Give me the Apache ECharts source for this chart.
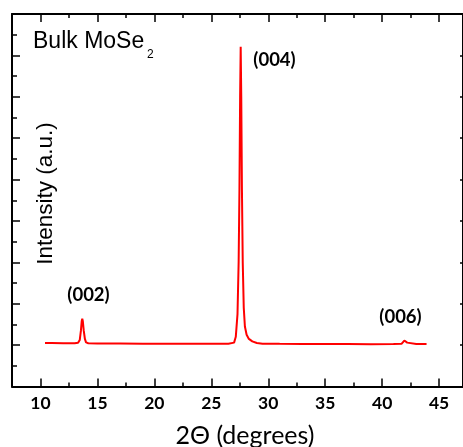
<!DOCTYPE html>
<html>
<head>
<meta charset="utf-8">
<script src="https://cdn.jsdelivr.net/npm/echarts@6/dist/echarts.min.js"></script>
<style>html,body{margin:0;padding:0;background:#fff;}#c{width:463px;height:447px;}</style>
</head>
<body>
<div id="c"></div>
<script>
// 2-theta (degrees)
const twoTheta = [10.4, 11, 12, 13, 13.3, 13.45, 13.55, 13.62, 13.67, 13.72, 13.8, 13.9, 14.0, 14.2, 15, 17, 19, 21, 23, 25, 26.5, 27.0, 27.15, 27.3, 27.4, 27.47, 27.53, 27.58, 27.63, 27.69, 27.76, 27.85, 27.95, 28.1, 28.3, 28.6, 29.0, 29.5, 31, 33, 35, 37, 39, 41, 41.7, 41.85, 41.95, 42.02, 42.1, 42.2, 42.35, 43, 43.9];
// Intensity (a.u.)
const intensity = [2.10, 2.10, 2.09, 2.09, 2.11, 2.25, 2.70, 3.15, 3.28, 3.15, 2.70, 2.30, 2.13, 2.09, 2.08, 2.08, 2.07, 2.07, 2.06, 2.06, 2.07, 2.12, 2.40, 3.50, 6.00, 9.50, 14.00, 16.42, 14.00, 9.50, 6.00, 3.80, 2.90, 2.50, 2.30, 2.18, 2.10, 2.07, 2.06, 2.05, 2.05, 2.05, 2.04, 2.05, 2.06, 2.12, 2.22, 2.26, 2.20, 2.12, 2.06, 2.05, 2.05];
const majorTicks = [10, 15, 20, 25, 30, 35, 40, 45];
const minorTicks = [12.5, 17.5, 22.5, 27.5, 32.5, 37.5, 42.5];
const peakLabels = ['(002)', '(004)', '(006)'];
const sampleName = 'Bulk MoSe';
const sampleSub = '2';
const xTitle = '2Θ (degrees)';
const yTitle = 'Intensity (a.u.)';

const chart = echarts.init(document.getElementById('c'), null, {renderer: 'canvas'});
const X_MIN = 7.5, X_MAX = 47.1;
const axisCol = '#000';
function xAx(pos, ticks, len, showLine, showLabel) {
  return {
    type: 'value', position: pos, min: X_MIN, max: X_MAX, gridIndex: 0,
    axisLine: {show: showLine, onZero: false, lineStyle: {color: axisCol, width: 2}},
    axisTick: {show: true, inside: true, length: len, customValues: ticks, lineStyle: {color: axisCol, width: 1.5}},
    axisLabel: showLabel ? {show: true, customValues: ticks, color: '#000', fontFamily: 'Lato', fontWeight: 'bold', fontSize: 17.5, margin: 8} : {show: false},
    splitLine: {show: false}
  };
}
const pairs = twoTheta.map((x, i) => [x, intensity[i]]);
chart.setOption({
  animation: false,
  backgroundColor: '#fff',
  grid: {left: 12, top: 14, width: 452.6, height: 372.5, containLabel: false},
  xAxis: [
    xAx('bottom', majorTicks, 8, true, true),
    xAx('bottom', minorTicks, 4, false, false),
    xAx('top', majorTicks, 8, true, false),
    xAx('top', minorTicks, 4, false, false)
  ],
  yAxis: [
    {type: 'value', position: 'left', min: 0, max: 18, interval: 2,
     axisLine: {show: true, onZero: false, lineStyle: {color: axisCol, width: 2}},
     axisTick: {show: true, inside: true, length: 8, lineStyle: {color: axisCol, width: 1.5}},
     minorTick: {show: true, splitNumber: 2, length: 5, lineStyle: {color: axisCol, width: 1.5}},
     axisLabel: {show: false}, splitLine: {show: false}, minorSplitLine: {show: false}},
    {type: 'value', position: 'right', min: 0, max: 18, interval: 2,
     axisLine: {show: true, onZero: false, lineStyle: {color: axisCol, width: 2}},
     axisTick: {show: true, inside: true, length: 3, lineStyle: {color: axisCol, width: 1.5}},
     axisLabel: {show: false}, splitLine: {show: false}}
  ],
  series: [{
    type: 'line', xAxisIndex: 0, yAxisIndex: 0, data: pairs,
    showSymbol: false, symbol: 'none', smooth: false,
    lineStyle: {color: '#ff0000', width: 2}
  }],
  graphic: [
    {type: 'text', x: 33, y: 41.5, style: {text: sampleName, font: '23px "Liberation Sans"', fill: '#000', textAlign: 'left', textVerticalAlign: 'middle'}},
    {type: 'text', x: 147, y: 54.5, style: {text: sampleSub, font: '12px "Liberation Sans"', fill: '#000', textAlign: 'left', textVerticalAlign: 'middle'}},
    {type: 'text', x: 46, y: 193.5, rotation: Math.PI / 2, style: {text: yTitle, font: '22.5px "Liberation Sans"', fill: '#000', textAlign: 'center', textVerticalAlign: 'middle'}},
    {type: 'text', x: 245, y: 436, style: {text: xTitle, font: '25px Lato', fill: '#000', textAlign: 'center', textVerticalAlign: 'middle'}},
    {type: 'text', x: 88.5, y: 295.5, style: {text: peakLabels[0], font: 'bold 18.5px Lato', fill: '#000', textAlign: 'center', textVerticalAlign: 'middle'}},
    {type: 'text', x: 274.5, y: 60, style: {text: peakLabels[1], font: 'bold 18.5px Lato', fill: '#000', textAlign: 'center', textVerticalAlign: 'middle'}},
    {type: 'text', x: 400.5, y: 317, style: {text: peakLabels[2], font: 'bold 18.5px Lato', fill: '#000', textAlign: 'center', textVerticalAlign: 'middle'}}
  ]
});
</script>
</body>
</html>
